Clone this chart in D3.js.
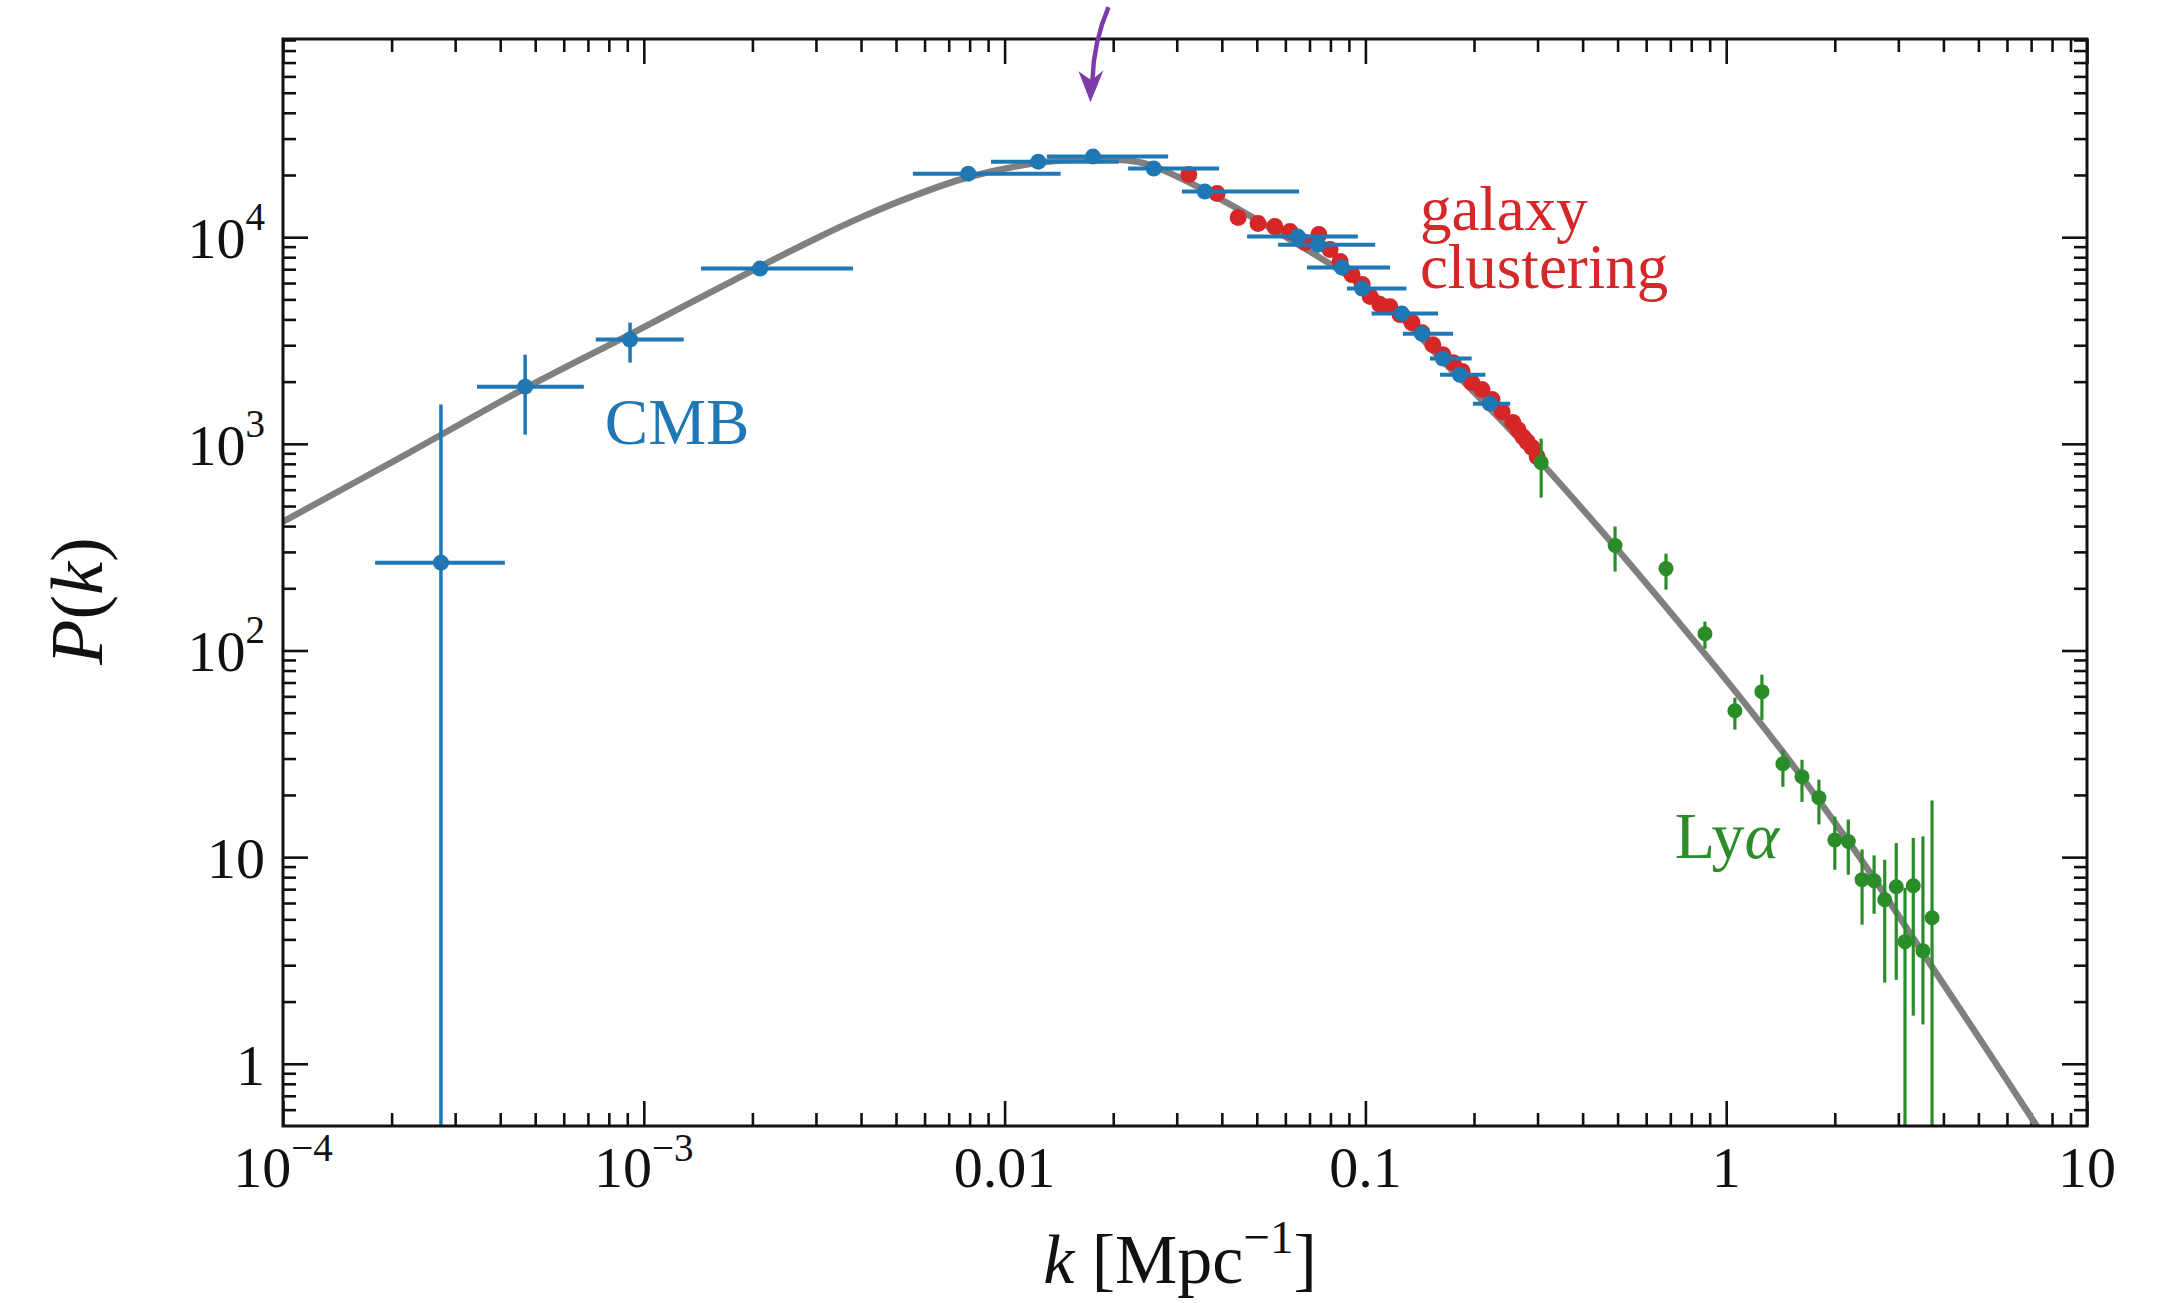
<!DOCTYPE html>
<html>
<head>
<meta charset="utf-8">
<script src="https://cdn.jsdelivr.net/npm/d3@7"></script>
<style>
  body { margin: 0; background: #fff; }
  svg text { font-family: "Liberation Serif", "Times New Roman", serif; }
</style>
</head>
<body>
<svg id="chart" width="2167" height="1303"></svg>
<script>
// best-fit model curve
const modelK = [1e-4, 2.22e-4, 4.69e-4, 9.16e-4, 2.10e-3, 3.0e-3, 4.0e-3, 5.5e-3, 7.92e-3, 0.0123,
    0.0176, 0.0242, 0.0301, 0.0413, 0.0510, 0.0599, 0.0867, 0.1225, 0.162, 0.2215,
    0.307, 0.492, 0.809, 1.106, 1.513, 2.066, 2.43, 3.86, 5.28, 7.22, 8.41];
const modelP = [420, 900, 1860, 3390, 7210, 9860, 12470, 15670, 19500, 22860,
    23900, 22860, 19650, 14700, 11890, 10070, 6740, 4260, 2570, 1480,
    811, 318, 113, 57.8, 28.6, 13.6, 9.09, 2.67, 1.17, 0.507, 0.34];

// CMB + large scale points (blue), with horizontal bins
const cmbK = [2.74e-4, 4.69e-4, 9.16e-4, 2.10e-3, 7.93e-3, 0.0124, 0.01758, 0.0259, 0.0359,
    0.0650, 0.0740, 0.0861, 0.098, 0.1262, 0.1436, 0.164, 0.1828, 0.2213];
const cmbP = [266, 1890, 3195, 7050, 20300, 23200, 24550, 21500, 16630,
    10070, 9200, 7130, 5640, 4270, 3410, 2585, 2160, 1565];
const cmbKLo = [1.80e-4, 3.45e-4, 7.36e-4, 1.44e-3, 0.00557, 0.00917, 0.0131, 0.0220, 0.0310,
    0.0470, 0.0573, 0.0689, 0.0889, 0.104, 0.127, 0.151, 0.161, 0.1986];
const cmbKHi = [4.12e-4, 6.82e-4, 1.29e-3, 3.80e-3, 0.0143, 0.0207, 0.0284, 0.0393, 0.0655,
    0.0953, 0.1065, 0.117, 0.130, 0.159, 0.175, 0.197, 0.215, 0.252];
const cmbPLo = [0.01, 1108, 2470, 7050, 20300, 23200, 24550, 21500, 16630,
    10070, 9200, 7130, 5640, 4270, 3410, 2585, 2160, 1565];
const cmbPHi = [1549, 2700, 3860, 7050, 20300, 23200, 24550, 21500, 16630,
    10070, 9200, 7130, 5640, 4270, 3410, 2585, 2160, 1565];

// galaxy clustering (red)
const galK = [0.0324, 0.0388, 0.0444, 0.0504, 0.0561, 0.0618, 0.0681, 0.0743, 0.0798, 0.0851,
    0.0918, 0.098, 0.1031, 0.1097, 0.1169, 0.1248, 0.1346, 0.1436, 0.1538, 0.164,
    0.1751, 0.1854, 0.1972, 0.2104, 0.2244, 0.2394, 0.2563, 0.265, 0.2735, 0.2805, 0.2897, 0.2992];
const galP = [20100, 16260, 12440, 11640, 11250, 10640, 9420, 10300, 8710, 7620,
    6590, 5900, 5160, 4720, 4610, 4220, 3860, 3450, 3020, 2700,
    2470, 2240, 1980, 1830, 1640, 1430, 1270, 1170, 1080, 1025, 959, 867];

// Lyman alpha forest (green)
const lyaK = [0.307, 0.492, 0.681, 0.873, 1.057, 1.256, 1.436, 1.622, 1.807, 2.00,
    2.18, 2.38, 2.57, 2.75, 2.96, 3.13, 3.30, 3.51, 3.72];
const lyaP = [811, 322, 249, 120.6, 51.1, 63.2, 28.3, 24.5, 19.4, 12.1,
    11.9, 7.78, 7.69, 6.22, 7.19, 3.90, 7.27, 3.52, 5.09];
const lyaPLo = [549, 241, 197, 102, 41.4, 46.2, 21.9, 18.5, 14.4, 8.69,
    8.22, 4.71, 5.32, 2.47, 2.55, 0.01, 1.71, 1.55, 0.01];
const lyaPHi = [1059, 398, 294, 138, 59.1, 76.4, 33.1, 29.6, 23.7, 15.7,
    15.2, 10.9, 10.2, 9.71, 11.7, 7.11, 12.4, 12.6, 18.8];

// tick values
const xMajor = [1e-4, 1e-3, 1e-2, 1e-1, 1, 10];
const xLabels = [["10", "−4"], ["10", "−3"], ["0.01", ""], ["0.1", ""], ["1", ""], ["10", ""]];
const yMajor = [1, 10, 100, 1000, 10000];
const yLabels = [["1", ""], ["10", ""], ["10", "2"], ["10", "3"], ["10", "4"]];

const blue = "#1f77b4", red = "#d62728", green = "#2a8d2a", grey = "#808080", purple = "#7d3aa8";

const margin = { top: 39, right: 80, bottom: 177, left: 283 };
const width = 2167 - margin.left - margin.right;
const height = 1303 - margin.top - margin.bottom;

const svg = d3.select("#chart");
const g = svg.append("g").attr("transform", `translate(${margin.left},${margin.top})`);

const x = d3.scaleLog().domain([1e-4, 10]).range([0, width]);
const y = d3.scaleLog().domain([0.5, 9.1e4]).range([height, 0]);

g.append("clipPath").attr("id", "plot-clip")
    .append("rect").attr("width", width).attr("height", height);

// minor ticks: 2..9 in each decade
function minorTicks(lo, hi) {
    const out = [];
    for (let e = Math.floor(Math.log10(lo)); e <= Math.ceil(Math.log10(hi)); e++) {
        for (let m = 2; m <= 9; m++) {
            const v = m * Math.pow(10, e);
            if (v > lo * 1.0001 && v < hi * 0.9999) out.push(v);
        }
    }
    return out;
}
const xMinor = minorTicks(1e-4, 10);
const yMinor = minorTicks(0.5, 9.1e4);

function tickAxis(axis, values, size, transform) {
    const a = g.append("g").attr("transform", transform)
        .call(axis.tickValues(values).tickSize(-size).tickFormat(""));
    a.select(".domain").remove();
    a.selectAll("line").attr("stroke", "#111").attr("stroke-width", 2.6);
}
tickAxis(d3.axisBottom(x), xMajor, 25, `translate(0,${height})`);
tickAxis(d3.axisBottom(x), xMinor, 13, `translate(0,${height})`);
tickAxis(d3.axisTop(x), xMajor, 25, "translate(0,0)");
tickAxis(d3.axisTop(x), xMinor, 13, "translate(0,0)");
tickAxis(d3.axisLeft(y), yMajor, 25, "translate(0,0)");
tickAxis(d3.axisLeft(y), yMinor, 13, "translate(0,0)");
tickAxis(d3.axisRight(y), yMajor, 25, `translate(${width},0)`);
tickAxis(d3.axisRight(y), yMinor, 13, `translate(${width},0)`);

// tick labels with superscripts
function powLabel(sel, parts, supSize, supShift) {
    sel.append("tspan").text(parts[0]);
    if (parts[1]) {
        sel.append("tspan").attr("dy", -supShift).attr("font-size", supSize).text(parts[1]);
    }
}
xMajor.forEach((v, i) => {
    const t = g.append("text").attr("x", x(v)).attr("y", height + 61)
        .attr("text-anchor", "middle").attr("font-size", 58).attr("fill", "#111");
    powLabel(t, xLabels[i], 39, 26);
});
yMajor.forEach((v, i) => {
    const t = g.append("text").attr("x", -18).attr("y", y(v) + 21)
        .attr("text-anchor", "end").attr("font-size", 58).attr("fill", "#111");
    powLabel(t, yLabels[i], 39, 28);
});

// model curve
const curve = d3.line()
    .x(d => x(d[0])).y(d => y(d[1]))
    .curve(d3.curveCatmullRom.alpha(0.5));
g.append("path")
    .datum(d3.zip(modelK, modelP))
    .attr("clip-path", "url(#plot-clip)")
    .attr("d", curve)
    .attr("fill", "none")
    .attr("stroke", grey)
    .attr("stroke-width", 6.5);

// galaxy clustering points
g.append("g").selectAll("circle")
    .data(d3.zip(galK, galP))
    .join("circle")
    .attr("cx", d => x(d[0])).attr("cy", d => y(d[1]))
    .attr("r", 8.5).attr("fill", red);

// blue points with error bars
const cmb = cmbK.map((k, i) => ({ k, p: cmbP[i], kLo: cmbKLo[i], kHi: cmbKHi[i], pLo: cmbPLo[i], pHi: cmbPHi[i] }));
const cmbG = g.append("g").attr("clip-path", "url(#plot-clip)");
cmbG.selectAll(".hbar").data(cmb).join("line")
    .attr("x1", d => x(d.kLo)).attr("x2", d => x(d.kHi))
    .attr("y1", d => y(d.p)).attr("y2", d => y(d.p))
    .attr("stroke", blue).attr("stroke-width", 4);
cmbG.selectAll(".vbar").data(cmb.filter(d => d.pHi > d.pLo)).join("line")
    .attr("x1", d => x(d.k)).attr("x2", d => x(d.k))
    .attr("y1", d => y(Math.max(d.pLo, 0.1))).attr("y2", d => y(d.pHi))
    .attr("stroke", blue).attr("stroke-width", 3.5);
cmbG.selectAll("circle").data(cmb).join("circle")
    .attr("cx", d => x(d.k)).attr("cy", d => y(d.p))
    .attr("r", 8).attr("fill", blue);

// Lyman alpha points
const lya = lyaK.map((k, i) => ({ k, p: lyaP[i], pLo: lyaPLo[i], pHi: lyaPHi[i] }));
const lyaG = g.append("g").attr("clip-path", "url(#plot-clip)");
lyaG.selectAll("line").data(lya).join("line")
    .attr("x1", d => x(d.k)).attr("x2", d => x(d.k))
    .attr("y1", d => y(Math.max(d.pLo, 0.1))).attr("y2", d => y(d.pHi))
    .attr("stroke", green).attr("stroke-width", 3.2);
lyaG.selectAll("circle").data(lya).join("circle")
    .attr("cx", d => x(d.k)).attr("cy", d => y(d.p))
    .attr("r", 7.5).attr("fill", green);

// frame
g.append("rect").attr("width", width).attr("height", height)
    .attr("fill", "none").attr("stroke", "#111").attr("stroke-width", 3);

// annotations
g.append("text").attr("x", x(7.8e-4)).attr("y", y(1000))
    .attr("font-size", 65).attr("fill", blue).text("CMB");
g.append("text").attr("x", x(0.1416)).attr("y", y(10890))
    .attr("font-size", 63).attr("fill", red).text("galaxy");
g.append("text").attr("x", x(0.1416)).attr("y", y(5700))
    .attr("font-size", 63).attr("fill", red).text("clustering");
const lyaText = g.append("text").attr("x", x(0.72)).attr("y", y(9.9))
    .attr("font-size", 66).attr("fill", green);
lyaText.append("tspan").text("Ly");
lyaText.append("tspan").attr("font-style", "italic").text("α");

// purple arrow pointing at the turnover
const tipX = x(0.0173), tipY = y(4.5e4);
svg.append("path")
    .attr("transform", `translate(${margin.left},${margin.top})`)
    .attr("d", `M${tipX + 18},${tipY - 95} Q${tipX + 3},${tipY - 60} ${tipX + 2},${tipY - 22}`)
    .attr("fill", "none").attr("stroke", purple).attr("stroke-width", 4.5);
svg.append("path")
    .attr("transform", `translate(${margin.left},${margin.top})`)
    .attr("d", `M${tipX},${tipY} L${tipX - 12},${tipY - 31} L${tipX + 1},${tipY - 22} L${tipX + 13},${tipY - 32} Z`)
    .attr("fill", purple);

// axis labels
const xl = svg.append("text").attr("x", 1180).attr("y", 1283)
    .attr("text-anchor", "middle").attr("font-size", 70).attr("fill", "#111");
xl.append("tspan").attr("font-style", "italic").text("k");
xl.append("tspan").text(" [Mpc");
xl.append("tspan").attr("dy", -30).attr("font-size", 47).text("−1");
xl.append("tspan").attr("dy", 30).text("]");

const yl = svg.append("text").attr("transform", "translate(102,601) rotate(-90)")
    .attr("text-anchor", "middle").attr("font-size", 74).attr("fill", "#111");
yl.append("tspan").attr("font-style", "italic").text("P");
yl.append("tspan").text("(");
yl.append("tspan").attr("font-style", "italic").text("k");
yl.append("tspan").text(")");
</script>
</body>
</html>
